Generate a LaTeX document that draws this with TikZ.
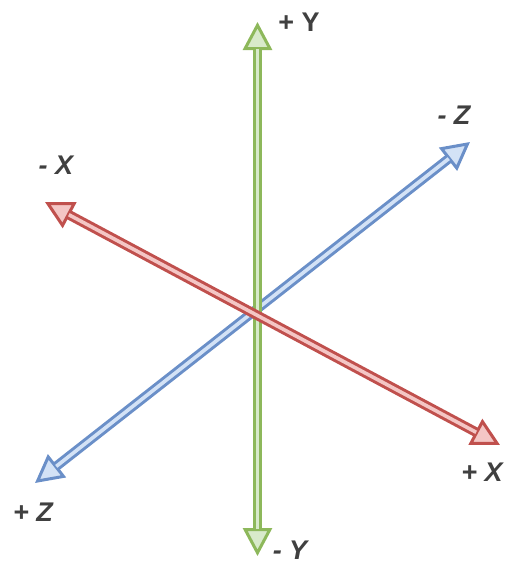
\documentclass[tikz,border=0pt]{standalone}
\usepackage{fontspec}
\setsansfont{Liberation Sans}
\usetikzlibrary{arrows.meta}
\definecolor{xdark}{HTML}{C0504D}
\definecolor{xlight}{HTML}{F4C6C5}
\definecolor{ydark}{HTML}{8DB85B}
\definecolor{ylight}{HTML}{D8EACB}
\definecolor{zdark}{HTML}{6A8FC8}
\definecolor{zlight}{HTML}{D3E2F6}
\definecolor{lbltext}{HTML}{404040}
\tikzset{every picture/.style={line width=0.75pt}}

\begin{document}
\begin{tikzpicture}[x=1pt,y=-1pt,
        axis/.style={line width=3pt, draw=#1dark,
            {Triangle[length=28pt,width=29pt,fill=#1light]}-{Triangle[length=28pt,width=29pt,fill=#1light]},
            postaction={draw=#1dark, double=#1light, double distance=3.6pt, line width=3pt,
                arrows=-, shorten >=27pt, shorten <=27pt}},
        lbl/.style={text=lbltext, font=\sffamily\bfseries\fontsize{27}{30}\selectfont, inner sep=0pt}]
        \useasboundingbox (0,0) rectangle (513,576);
        \coordinate (ypos) at (257.5,22);
        \coordinate (yneg) at (257.5,556);
        \coordinate (xneg) at (45,202);
        \coordinate (xpos) at (500,445);
        \coordinate (zneg) at (470,142);
        \coordinate (zpos) at (35,483);
        \draw
            (zpos) edge[axis=z] (zneg)
            (yneg) edge[axis=y] (ypos)
            (xneg) edge[axis=x] (xpos)
            ;
        \node[lbl] (yplbl) at (299,22) {+ Y};
        \node[lbl] (ymlbl) at (290,550) {\itshape - Y};
        \node[lbl] (xmlbl) at (56,165) {\itshape - X};
        \node[lbl] (xplbl) at (482,472) {\itshape + X};
        \node[lbl] (zmlbl) at (454,115) {\itshape - Z};
        \node[lbl] (zplbl) at (33,512) {\itshape + Z};
\end{tikzpicture}
\end{document}
